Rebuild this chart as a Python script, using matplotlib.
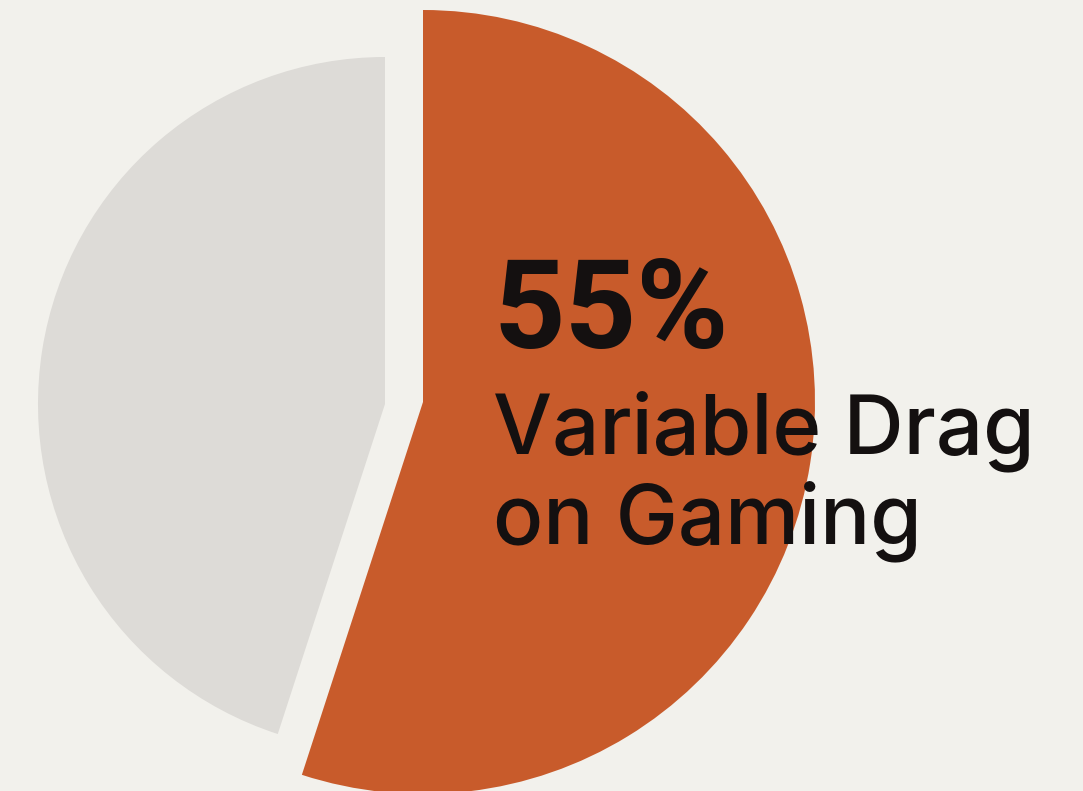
import matplotlib
matplotlib.use("Agg")
import matplotlib.pyplot as plt

# share of gaming revenue hit by variable drag
shares = [55, 45]
slice_names = ["Variable Drag on Gaming", "Other"]
headline = ["Variable Drag", "on Gaming"]

bg = "#F2F1EC"
orange = "#C85B2B"
grey = "#DDDBD7"
ink = "#141010"

W, H = 1083, 791
plt.rcParams["font.family"] = ["Inter", "DejaVu Sans"]
fig = plt.figure(figsize=(W / 100, H / 100), dpi=100, facecolor=bg)
ax = fig.add_axes([0, 0, 1, 1])
ax.set_facecolor(bg)

# orange slice, pulled out to the right and drawn a bit larger
ax.pie(shares, colors=[orange, "none"], startangle=90, counterclock=False,
       radius=392, center=(423, H - 402))
# grey remainder
ax.pie(shares, colors=["none", grey], startangle=90, counterclock=False,
       radius=347, center=(385, H - 404))

ax.set_xlim(0, W)
ax.set_ylim(0, H)
ax.axis("off")

ax.text(493, H - 348, f"{shares[0]}%", fontsize=90, fontweight="bold",
        family=["Roboto", "DejaVu Sans"], color=ink, va="baseline", ha="left")
for i, line in enumerate(headline):
    ax.text(493, H - 453 - 90 * i, line, fontsize=60, fontweight="medium",
            color=ink, va="baseline", ha="left")

fig.savefig("out.png", dpi=100, facecolor=bg)
